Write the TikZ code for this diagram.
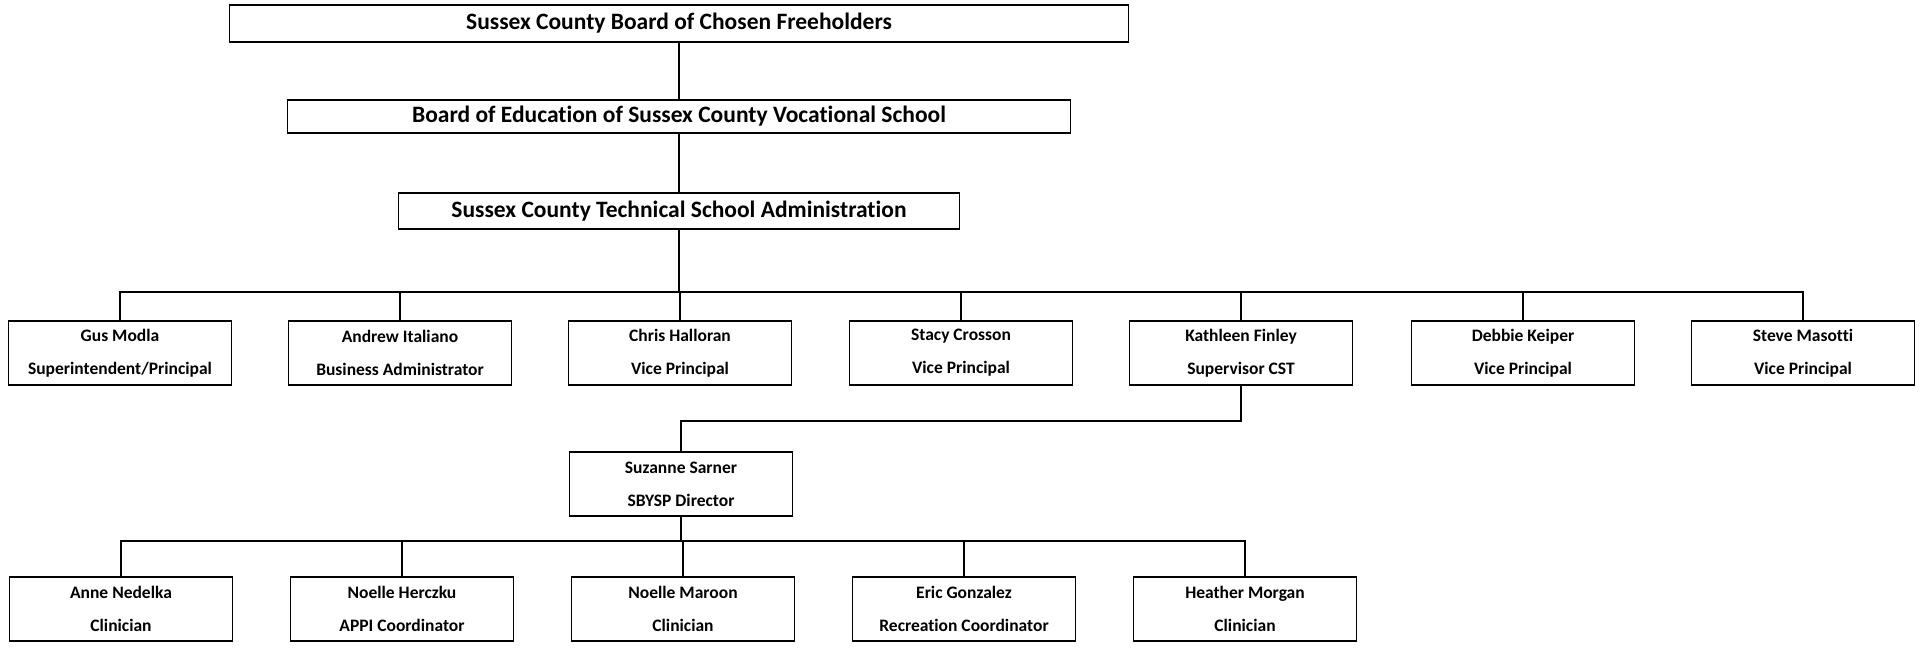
\documentclass[tikz,border=0pt]{standalone}
\usepackage{fontspec}
\setmainfont{Carlito}[Ligatures=NoCommon]

\begin{document}
\begin{tikzpicture}[x=1pt,y=-1pt,line width=1.2pt,
    headbox/.style={draw,line width=1.6pt,inner sep=0pt,
        font=\bfseries\fontsize{23.5}{28}\selectfont},
    staffbox/.style={draw,line width=1.6pt,inner sep=0pt,align=center,
        minimum width=223pt,minimum height=64pt,
        font=\bfseries\fontsize{17.5}{33}\selectfont}]
\useasboundingbox (0,0) rectangle (1929,654);
% top of the chart
\node[headbox,minimum width=899pt,minimum height=37pt] (freeholders) at (679,23.5)
    {Sussex County Board of Chosen Freeholders};
\node[headbox,minimum width=783pt,minimum height=33pt] (education) at (679,116.5)
    {Board of Education of Sussex County Vocational School};
\node[headbox,minimum width=561pt,minimum height=36pt] (admin) at (679,211)
    {Sussex County Technical School Administration};
\draw (freeholders) -- (education);
\draw (education) -- (admin);
% administration staff
\coordinate (adminbus) at (679,292);
\draw (admin) -- (adminbus);
\foreach \x/\name/\who/\role in {120/modla/Gus Modla/Superintendent\slash Principal,
    400/italiano/Andrew Italiano/Business Administrator,
    680/halloran/Chris Halloran/Vice Principal,
    961/crosson/Stacy Crosson/Vice Principal,
    1241/finley/Kathleen Finley/Supervisor CST,
    1523/keiper/Debbie Keiper/Vice Principal,
    1803/masotti/Steve Masotti/Vice Principal}{
    \node[staffbox] (\name) at (\x,353) {\who\\\role};
    \draw (adminbus) -| (\name);
}
% SBYSP
\node[staffbox] (sarner) at (681,484) {Suzanne Sarner\\SBYSP Director};
\coordinate (finleybend) at (1241,421);
\draw (finley) -- (finleybend) -| (sarner);
\coordinate (sarnerbus) at (681,541);
\draw (sarner) -- (sarnerbus);
\foreach \x/\name/\who/\role in {121/nedelka/Anne Nedelka/Clinician,
    402/herczku/Noelle Herczku/APPI Coordinator,
    683/maroon/Noelle Maroon/Clinician,
    964/gonzalez/Eric Gonzalez/Recreation Coordinator,
    1245/morgan/Heather Morgan/Clinician}{
    \node[staffbox] (\name) at (\x,609) {\who\\\role};
    \draw (sarnerbus) -| (\name);
}
\end{tikzpicture}
\end{document}
